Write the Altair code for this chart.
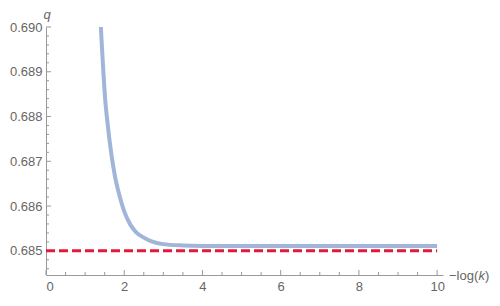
import altair as alt
import pandas as pd

# curve q vs -log(k)
x_curve = [1.40, 1.45, 1.51, 1.58, 1.66, 1.76, 1.88, 2.0, 2.16, 2.3, 2.49, 2.7, 2.99, 3.5, 4.0, 5.0, 6.0, 8.0, 10.0]
q_curve = [0.69003, 0.68925, 0.68842, 0.68780, 0.68723, 0.68668, 0.68623, 0.68588, 0.68558, 0.68542,
           0.68530, 0.68521, 0.68515, 0.68512, 0.68511, 0.68511, 0.68511, 0.68511, 0.68511]

# reference (dashed) line
x_ref = [0.0, 10.0]
q_ref = [0.685, 0.685]

# axis ticks
x_major = [0, 2, 4, 6, 8, 10]
x_minor = [0.5, 1, 1.5, 2.5, 3, 3.5, 4.5, 5, 5.5, 6.5, 7, 7.5, 8.5, 9, 9.5]
y_major = [0.685, 0.686, 0.687, 0.688, 0.689, 0.690]
y_minor = [0.6846, 0.6848, 0.6852, 0.6854, 0.6856, 0.6858, 0.6862, 0.6864, 0.6866, 0.6868,
           0.6872, 0.6874, 0.6876, 0.6878, 0.6882, 0.6884, 0.6886, 0.6888, 0.6892, 0.6894,
           0.6896, 0.6898]

W, H = 397, 248
FONT = "Liberation Sans"
GRAY = "#999999"
LABEL = "#666666"

xs = alt.Scale(domain=[0, 10.15], nice=False, zero=False)
ys = alt.Scale(domain=[0.68446, 0.6900], nice=False, zero=False)

xaxis = alt.Axis(values=x_major, format="d", ticks=False, grid=False, domainColor=GRAY,
                 labelColor=LABEL, labelFont=FONT, labelFontSize=13, labelPadding=5, title=None)
yaxis = alt.Axis(values=y_major, format=".3f", ticks=False, grid=False, domainColor=GRAY,
                 labelColor=LABEL, labelFont=FONT, labelFontSize=13, labelPadding=4, title=None)

curve_df = pd.DataFrame({"x": x_curve, "q": q_curve})
ref_df = pd.DataFrame({"x": x_ref, "q": q_ref})

base_axes = alt.Chart(ref_df).mark_line(opacity=0).encode(
    x=alt.X("x:Q", scale=xs, axis=xaxis),
    y=alt.Y("q:Q", scale=ys, axis=yaxis),
)

curve = alt.Chart(curve_df).mark_line(color="#A0B5D8", strokeWidth=4, interpolate="monotone", clip=True).encode(
    x=alt.X("x:Q", scale=xs),
    y=alt.Y("q:Q", scale=ys),
)

ref = alt.Chart(ref_df).mark_line(color="#E2193D", strokeWidth=3, strokeDash=[9, 4]).encode(
    x=alt.X("x:Q", scale=xs),
    y=alt.Y("q:Q", scale=ys),
)

def xticks(vals, length):
    return alt.Chart(pd.DataFrame({"v": vals})).mark_rule(color=GRAY, strokeWidth=1).encode(
        x=alt.X("v:Q", scale=xs), y=alt.value(H), y2=alt.value(H - length))

def yticks(vals, length):
    return alt.Chart(pd.DataFrame({"v": vals})).mark_rule(color=GRAY, strokeWidth=1).encode(
        y=alt.Y("v:Q", scale=ys), x=alt.value(0), x2=alt.value(length))

q_title = alt.Chart(pd.DataFrame({"t": ["q"]})).mark_text(
    font=FONT, fontSize=13, fontStyle="italic", color=LABEL, align="center", baseline="middle"
).encode(x=alt.value(1), y=alt.value(-12), text="t:N")

TX, TY = 403, 249
xt1 = alt.Chart(pd.DataFrame({"t": ["\u2212log("]})).mark_text(
    font=FONT, fontSize=13, color=LABEL, align="left", baseline="middle"
).encode(x=alt.value(TX), y=alt.value(TY), text="t:N")
xt2 = alt.Chart(pd.DataFrame({"t": ["k"]})).mark_text(
    font=FONT, fontSize=13, fontStyle="italic", color=LABEL, align="left", baseline="middle"
).encode(x=alt.value(TX + 29.5), y=alt.value(TY), text="t:N")
xt3 = alt.Chart(pd.DataFrame({"t": [")"]})).mark_text(
    font=FONT, fontSize=13, color=LABEL, align="left", baseline="middle"
).encode(x=alt.value(TX + 36), y=alt.value(TY), text="t:N")

chart = alt.layer(
    base_axes,
    xticks(x_major, 5), xticks(x_minor, 3),
    yticks(y_major, 5), yticks(y_minor, 3),
    curve, ref, q_title, xt1, xt2, xt3,
).properties(
    width=W, height=H,
    padding={"left": 38, "top": 19, "right": 49, "bottom": 19},
    autosize=alt.AutoSizeParams(type="none"),
).configure_view(stroke=None)

chart.save("out.html", embed_options={"renderer": "svg", "actions": False})
